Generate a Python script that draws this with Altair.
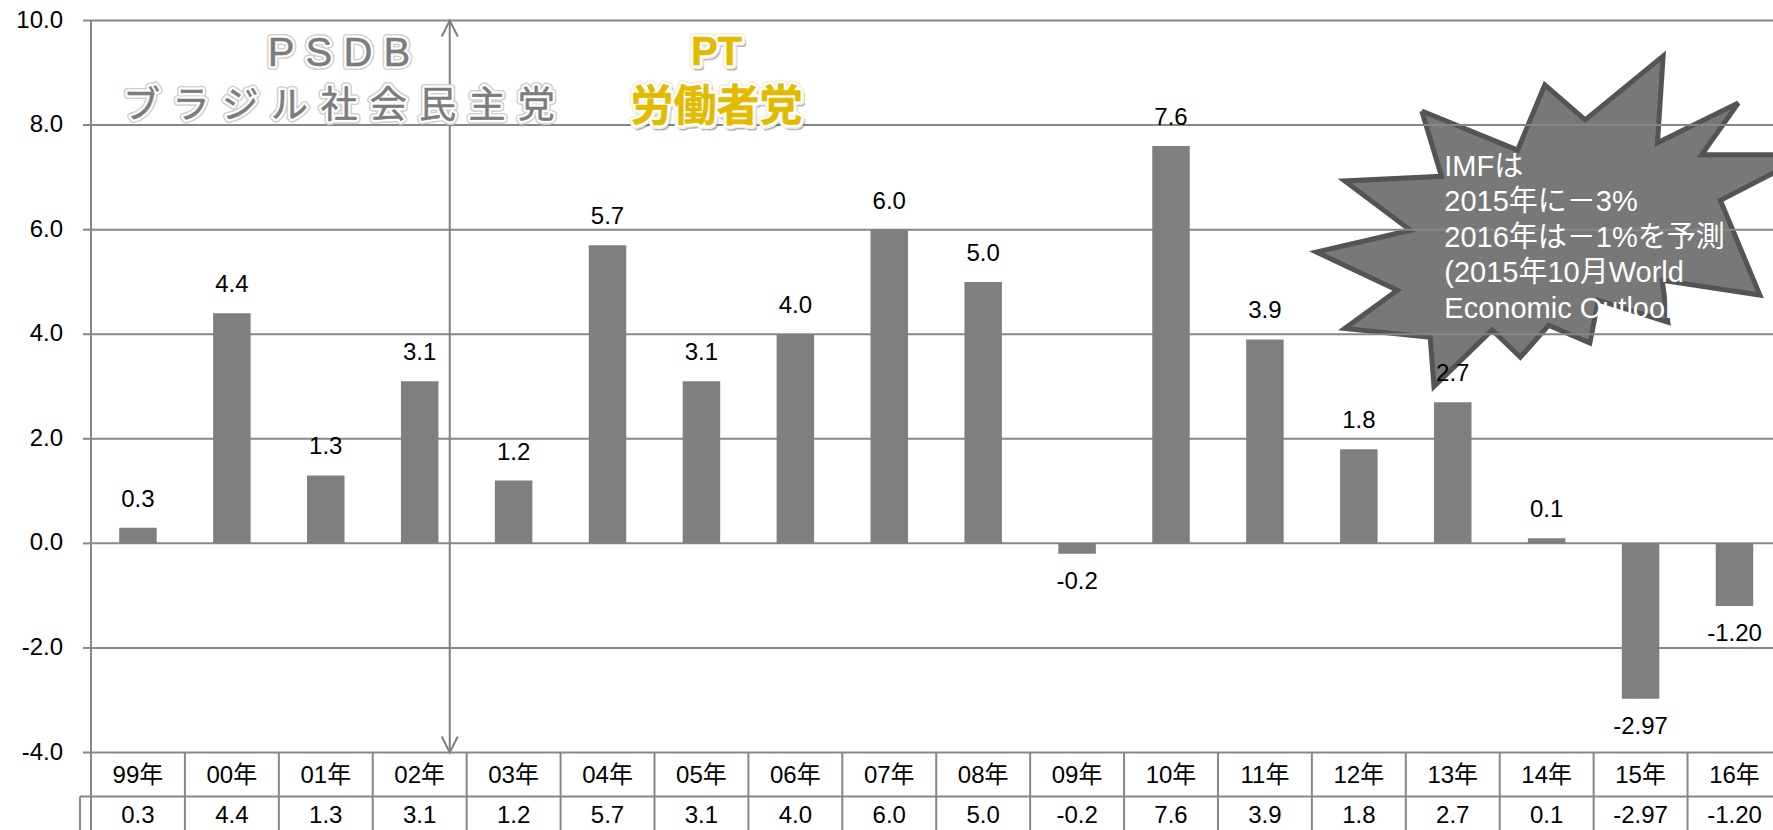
import altair as alt
import pandas as pd

# Brazil real GDP growth (%), 1999-2016
years = ["99年", "00年", "01年", "02年", "03年", "04年", "05年", "06年", "07年",
         "08年", "09年", "10年", "11年", "12年", "13年", "14年", "15年", "16年"]
growth = [0.3, 4.4, 1.3, 3.1, 1.2, 5.7, 3.1, 4.0, 6.0,
          5.0, -0.2, 7.6, 3.9, 1.8, 2.7, 0.1, -2.97, -1.20]
decimals = [1] * 16 + [2, 2]
y_ticks = [-4, -2, 0, 2, 4, 6, 8, 10]

# Annotation texts
psdb_lines = ["P\u00a0S\u00a0D\u00a0B", "\u2004".join("ブラジル社会民主党")]
pt_lines = ["PT", "労働者党"]
imf_note = "IMFは\n2015年に－3%\n2016年は－1%を予測\n(2015年10月World\nEconomic Outlook)"

# Starburst outline, in (year slot, growth %) units
star_x = [14.17, 15.19, 15.48, 15.91, 16.74, 16.68, 17.54, 17.15, 18.29, 17.35,
          17.77, 16.73, 16.79, 16.05, 15.96, 15.52, 15.22, 14.92, 14.30, 14.26,
          13.35, 13.91, 13.05, 14.05, 13.35, 14.38]
star_y = [8.27, 7.52, 8.77, 8.10, 9.32, 7.66, 8.42, 7.43, 7.43, 6.56,
          4.75, 5.03, 4.23, 4.65, 3.83, 4.17, 3.56, 4.08, 3.00, 3.94,
          4.11, 4.84, 5.57, 5.99, 6.93, 7.02]

W, H = 1682, 732
GRID = "#878787"
BAR = "#7f7f7f"
LATIN = "Liberation Sans"
JP = "Liberation Sans, Noto Sans CJK JP"
JP_BOLD = "Liberation Sans, Noto Sans CJK JP Bold, Noto Sans CJK JP"

# data table rows (in growth units, below the -4 floor)
ROW1, ROW_SPLIT, ROW2, TABLE_END = -4.44, -4.84, -5.21, -5.7
# the last year slot runs a little past the right edge of the view
X_MAX = 17.91

X = alt.Scale(domain=[0, X_MAX], nice=False, zero=False, padding=0)
Y = alt.Scale(domain=[-4, 10], nice=False, zero=False, padding=0)

df = pd.DataFrame({
    "year": years,
    "growth": growth,
    "label": [f"{v:.{d}f}" for v, d in zip(growth, decimals)],
    "slot": [i + 0.5 for i in range(len(years))],
})
ticks_df = pd.DataFrame({"v": y_ticks, "t": [f"{v:.1f}" for v in y_ticks]})
one = pd.DataFrame({"k": [0]})

def xq(field):
    return alt.X(field, type="quantitative", scale=X, axis=None)

def yq(field):
    return alt.Y(field, type="quantitative", scale=Y, axis=None)

# y axis: tick labels, outward ticks and the axis line
axis_labels = alt.Chart(ticks_df).mark_text(
    font=LATIN, fontSize=24, color="#000000", align="right", baseline="middle", dx=-28
).encode(x=alt.XDatum(0, scale=X, axis=None), y=yq("v"), text="t:N")
axis_ticks = alt.Chart(ticks_df).mark_rule(color=GRID, strokeWidth=2).encode(
    x=alt.value(-8), x2=alt.value(0), y=yq("v"))
axis_line = alt.Chart(one).mark_rule(color=GRID, strokeWidth=2).encode(
    x=alt.XDatum(0, scale=X, axis=None), y=alt.YDatum(10, scale=Y, axis=None),
    y2=alt.Y2Datum(-4))

# starburst shape, with the gridlines drawn on top of it
star_df = pd.DataFrame({"x": star_x + star_x[:1], "y": star_y + star_y[:1],
                        "i": list(range(len(star_x) + 1))})
star = alt.Chart(star_df).mark_line(
    filled=True, fill="#787878", stroke="#545454", strokeWidth=5, strokeJoin="miter"
).encode(x=xq("x"), y=yq("y"), order="i:Q")
grid = alt.Chart(ticks_df).mark_rule(color=GRID, strokeWidth=2).encode(
    x=alt.XDatum(0, scale=X, axis=None), x2=alt.X2Datum(18), y=yq("v"))

bars = alt.Chart(df).mark_bar(size=37.5, color=BAR, orient="vertical").encode(
    x=xq("slot"), y=yq("growth"), y2=alt.Y2Datum(0)
)

label_kw = dict(font=LATIN, fontSize=24, color="#000000", align="center", baseline="middle")
labels_pos = alt.Chart(df).transform_filter("datum.growth >= 0").mark_text(dy=-28, **label_kw).encode(
    x=xq("slot"), y=yq("growth"), text="label:N")
labels_neg = alt.Chart(df).transform_filter("datum.growth < 0").mark_text(dy=28, **label_kw).encode(
    x=xq("slot"), y=yq("growth"), text="label:N")

# data table under the plot
edges = pd.DataFrame({"b": list(range(len(years) + 1))})
table_vlines = alt.Chart(edges).mark_rule(color=GRID, strokeWidth=2).encode(
    x=xq("b"), y=alt.YDatum(-4, scale=Y, axis=None), y2=alt.Y2Datum(TABLE_END))
table_split = alt.Chart(one).mark_rule(color=GRID, strokeWidth=2).encode(
    x=alt.value(-11), x2=alt.value(W), y=alt.YDatum(ROW_SPLIT, scale=Y, axis=None))
table_left = alt.Chart(one).mark_rule(color=GRID, strokeWidth=2).encode(
    x=alt.value(-11), y=alt.YDatum(ROW_SPLIT, scale=Y, axis=None), y2=alt.Y2Datum(TABLE_END))
table_kw = dict(font=JP, fontSize=24, color="#000000", align="center", baseline="middle")
row_years = alt.Chart(df).mark_text(**table_kw).encode(
    x=xq("slot"), y=alt.YDatum(ROW1, scale=Y, axis=None), text="year:N")
row_values = alt.Chart(df).mark_text(**table_kw).encode(
    x=xq("slot"), y=alt.YDatum(ROW2, scale=Y, axis=None), text="label:N")

# double-headed arrow marking the change of government
ARROW_X = 3.82
arrow_line = alt.Chart(one).mark_rule(color="#808080", strokeWidth=2).encode(
    x=alt.XDatum(ARROW_X, scale=X, axis=None),
    y=alt.YDatum(10, scale=Y, axis=None), y2=alt.Y2Datum(-4))
arrow_heads = alt.Chart(pd.DataFrame({"y": [10, -4], "shape": [
    "M-0.5,1L0,0L0.5,1", "M-0.5,-1L0,0L0.5,-1"]})).mark_point(
    filled=False, size=1024, stroke="#808080", strokeWidth=2, opacity=1
).encode(
    x=alt.XDatum(ARROW_X, scale=X, axis=None), y=yq("y"),
    shape=alt.Shape("shape:N", scale=None),
)

def party_layers(lines, xs, ys, fonts, sizes, weight, fill, edge, shadow):
    d = pd.DataFrame({"t": lines, "x": xs, "y": ys, "f": fonts, "s": sizes})
    out = []
    for i in range(len(lines)):
        row = d.iloc[[i]]
        base = alt.Chart(row).encode(x=xq("x"), y=yq("y"), text="t:N")
        kw = dict(font=row["f"].iloc[0], fontSize=int(row["s"].iloc[0]), fontWeight=weight,
                  align="center", baseline="middle")
        if shadow:
            out.append(base.mark_text(fill="#333333", stroke="#333333", strokeWidth=5,
                                      strokeJoin="round", opacity=0.35, dx=2, dy=3, **kw))
        out.append(base.mark_text(fill=edge, stroke=edge, strokeWidth=8,
                                  strokeJoin="round", **kw))
        out.append(base.mark_text(fill="white", stroke="white", strokeWidth=5,
                                  strokeJoin="round", **kw))
        out.append(base.mark_text(fill=fill, stroke=fill, strokeWidth=0.5, **kw))
    return out

psdb = party_layers(psdb_lines, [2.64, 2.64], [9.36, 8.34], [LATIN, JP], [40, 37],
                    "normal", "#7c7c7c", "#cfcfcf", False)
pt = party_layers(pt_lines, [6.66, 6.66], [9.37, 8.33], [LATIN, JP_BOLD], [40, 43],
                  "bold", "#e2bb00", "#f3efd8", True)

# note inside the starburst; y is the centre of its first line
note = alt.Chart(pd.DataFrame({"t": [imf_note], "x": [14.41], "y": [7.20]})).mark_text(
    font=JP_BOLD, fontSize=29, color="white", align="left", baseline="middle",
    lineBreak="\n", lineHeight=35.5,
).encode(x=xq("x"), y=yq("y"), text="t:N")

chart = alt.layer(
    star, grid, axis_ticks, axis_line, axis_labels, bars,
    table_vlines, table_split, table_left, row_years, row_values,
    labels_pos, labels_neg, arrow_line, arrow_heads, *psdb, *pt, note
).properties(
    width=W, height=H,
    autosize=alt.AutoSizeParams(type="none"),
    padding={"left": 91, "top": 20.5, "right": 0, "bottom": 77.5},
    background="white",
).configure_view(stroke=None)

chart.save("out.html", embed_options={"renderer": "svg", "actions": False})
